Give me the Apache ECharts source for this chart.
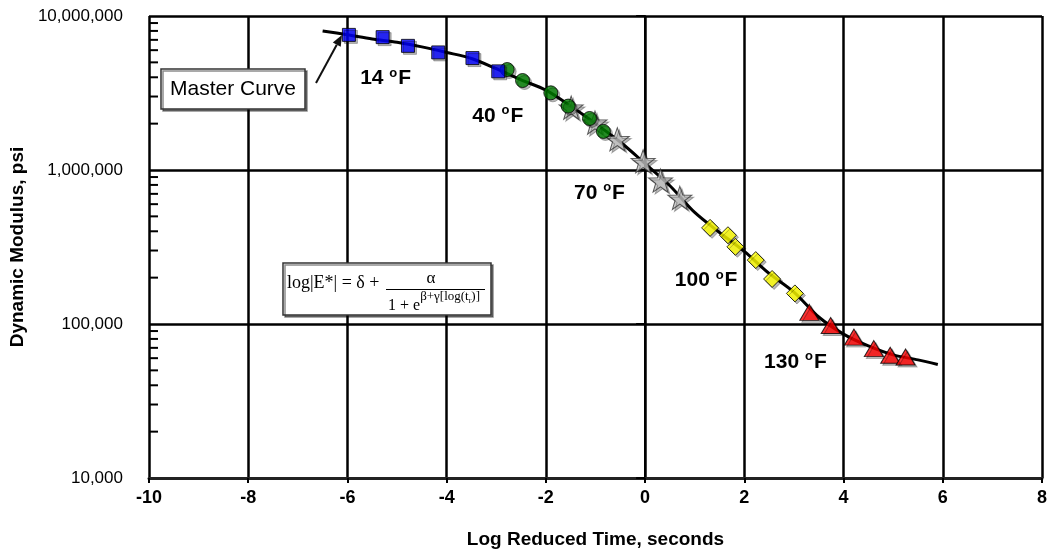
<!DOCTYPE html>
<html>
<head>
<meta charset="utf-8">
<script src="https://cdn.jsdelivr.net/npm/echarts@6/dist/echarts.min.js"></script>
<style>
html,body{margin:0;padding:0;background:#fff;}
#chart{width:1050px;height:554px;}
</style>
</head>
<body>
<div id="chart"></div>
<script>
// ---- data ----
const xTicks = [-10, -8, -6, -4, -2, 0, 2, 4, 6, 8];
const yTicks = [10000, 100000, 1000000, 10000000];

const curveX = [-6.5, -6, -5.5, -5, -4.5, -4, -3.5, -3, -2.5, -2, -1.5, -1, -0.5, 0, 0.5, 1, 1.5, 2, 2.5, 3, 3.5, 4, 4.5, 5, 5.5, 5.9];
const curveY = [8.0e6, 7.55e6, 7.1e6, 6.75e6, 6.3e6, 5.8e6, 5.3e6, 4.55e6, 3.85e6, 3.3e6, 2.6e6, 2.0e6, 1.52e6, 1.1e6, 790000, 530000, 393000, 296000, 213000, 161000, 111000, 86000, 72000, 63000, 58500, 54600];

const f14X = [-5.97, -5.29, -4.78, -4.17, -3.48, -2.96];
const f14Y = [7.54e6, 7.29e6, 6.40e6, 5.80e6, 5.33e6, 4.37e6];
const f40X = [-2.78, -2.47, -1.90, -1.55, -1.12, -0.84];
const f40Y = [4.49e6, 3.81e6, 3.17e6, 2.60e6, 2.16e6, 1.78e6];
const f70X = [-1.49, -1.01, -0.56, -0.04, 0.31, 0.70];
const f70Y = [2.54e6, 2.03e6, 1.585e6, 1.14e6, 853000, 659000];
const f100X = [1.31, 1.67, 1.82, 2.23, 2.56, 3.02];
const f100Y = [421000, 377000, 317000, 260000, 196000, 158000];
const f130X = [3.31, 3.74, 4.21, 4.61, 4.94, 5.25];
const f130Y = [119000, 97700, 82200, 69200, 62600, 61100];

const tempLabels = ['14', '40', '70', '100', '130'];
const tempLabelX = [-5.22, -2.96, -0.91, 1.24, 3.04];
const tempLabelY = [3.93e6, 2.25e6, 711000, 192000, 56900];

const minorTickValues = [];
[10000, 100000, 1000000].forEach(function (d) {
  for (let k = 2; k <= 9; k++) minorTickValues.push(d * k);
});

// ---- helpers ----
function zip(xs, ys) { return xs.map(function (x, i) { return [x, ys[i]]; }); }
const starPath = 'path://M50,0L61.76,33.82L97.55,34.55L69.02,56.18L79.39,90.45L50,70L20.61,90.45L30.98,56.18L2.45,34.55L38.24,33.82Z';
const shadow = { shadowColor: 'rgba(0,0,0,0.35)', shadowOffsetX: 2, shadowOffsetY: 2, shadowBlur: 0 };
function fmtThousands(v) {
  return String(Math.round(v)).replace(/\B(?=(\d{3})+(?!\d))/g, ',');
}

const chart = echarts.init(document.getElementById('chart'), null, { renderer: 'canvas' });

// arrow geometry for the "Master Curve" callout
const arrowFrom = [316, 83], arrowTo = [342, 35];
const dx = arrowTo[0] - arrowFrom[0], dy = arrowTo[1] - arrowFrom[1];
const dl = Math.sqrt(dx * dx + dy * dy);
const ux = dx / dl, uy = dy / dl;
const bx = arrowTo[0] - 11 * ux, by = arrowTo[1] - 11 * uy;
const px = -uy, py = ux;

const axisFont = 'Liberation Sans';

const option = {
  animation: false,
  backgroundColor: '#ffffff',
  grid: { left: 147, right: 5, top: 16, bottom: 73, containLabel: false },
  xAxis: {
    type: 'value',
    min: -10, max: 8, interval: 2,
    name: 'Log Reduced Time, seconds',
    nameLocation: 'middle',
    nameGap: 52,
    nameTextStyle: { fontFamily: axisFont, fontWeight: 'bold', fontSize: 19, color: '#000' },
    axisLine: { show: true, onZero: false, lineStyle: { color: '#222', width: 3 } },
    axisTick: { show: true, inside: false, length: 5, lineStyle: { color: '#000', width: 2 } },
    axisLabel: { fontFamily: axisFont, fontWeight: 'bold', fontSize: 18, color: '#000', margin: 11 },
    splitLine: { show: true, lineStyle: { color: '#000', width: 2.5 } }
  },
  yAxis: {
    type: 'log', logBase: 10,
    min: 10000, max: 10000000,
    name: 'Dynamic Modulus, psi',
    nameLocation: 'middle',
    nameGap: 118,
    nameTextStyle: { fontFamily: axisFont, fontWeight: 'bold', fontSize: 19, color: '#000' },
    axisLine: { show: true, lineStyle: { color: '#000', width: 2 } },
    axisTick: { show: true, inside: false, length: 9, lineStyle: { color: '#000', width: 2 } },
    minorTick: { show: false },
    axisLabel: {
      fontFamily: axisFont, fontSize: 17, color: '#000', margin: 26,
      formatter: function (v) { return fmtThousands(v); }
    },
    splitLine: { show: true, lineStyle: { color: '#000', width: 2.5 } }
  },
  series: [
    {
      name: 'minorTicks', type: 'custom', silent: true, z: 3,
      data: minorTickValues.map(function (v) { return [-10, v]; }),
      renderItem: function (params, api) {
        const p = api.coord([-10, api.value(1)]);
        return {
          type: 'line',
          shape: { x1: p[0], y1: p[1], x2: p[0] + 9, y2: p[1] },
          style: { stroke: '#000', lineWidth: 2 }
        };
      }
    },
    {
      name: 'Master Curve', type: 'line', data: zip(curveX, curveY),
      smooth: 0.3, symbol: 'none', z: 4,
      lineStyle: { color: '#000', width: 3 }
    },
    {
      name: '70 F', type: 'scatter', data: zip(f70X, f70Y), z: 5,
      symbol: starPath, symbolSize: [24, 23],
      itemStyle: Object.assign({ color: '#c0c0c0', borderColor: '#333', borderWidth: 1 }, shadow)
    },
    {
      name: '40 F', type: 'scatter', data: zip(f40X, f40Y), z: 6,
      symbol: 'circle', symbolSize: 14,
      itemStyle: Object.assign({ color: '#008000', borderColor: '#000', borderWidth: 1 }, shadow)
    },
    {
      name: '14 F', type: 'scatter', data: zip(f14X, f14Y), z: 7,
      symbol: 'rect', symbolSize: 13,
      itemStyle: Object.assign({ color: '#0000ff', borderColor: '#000', borderWidth: 1 }, shadow)
    },
    {
      name: '100 F', type: 'scatter', data: zip(f100X, f100Y), z: 7,
      symbol: 'diamond', symbolSize: [17, 17],
      itemStyle: Object.assign({ color: '#ffff00', borderColor: '#000', borderWidth: 1 }, shadow)
    },
    {
      name: '130 F', type: 'scatter', data: zip(f130X, f130Y), z: 8,
      symbol: 'triangle', symbolSize: [19, 16],
      itemStyle: Object.assign({ color: '#ff0000', borderColor: '#000', borderWidth: 1 }, shadow)
    },
    {
      name: 'labels', type: 'scatter', silent: true, z: 9,
      data: tempLabels.map(function (t, i) { return { value: [tempLabelX[i], tempLabelY[i]], name: t }; }),
      symbolSize: 1,
      itemStyle: { color: '#ffffff', opacity: 1 },
      label: {
        show: true, position: [0, 0], align: 'center', verticalAlign: 'middle',
        color: '#000', textBorderWidth: 0, opacity: 1,
        formatter: function (p) { return '{a|' + p.name + ' }{s|o}{a|F}'; },
        rich: {
          a: { fontFamily: axisFont, fontWeight: 'bold', fontSize: 21, color: '#000', lineHeight: 22, verticalAlign: 'bottom', textBorderWidth: 0 },
          s: { fontFamily: axisFont, fontWeight: 'bold', fontSize: 13, color: '#000', lineHeight: 22, verticalAlign: 'top', padding: [0, 1, 0, 0], textBorderWidth: 0 }
        }
      }
    }
  ],
  graphic: [
    // Master Curve callout
    {
      type: 'rect', z: 20,
      shape: { x: 161, y: 69, width: 144, height: 40 },
      style: { fill: '#fff', stroke: '#333', lineWidth: 1.5, shadowColor: 'rgba(0,0,0,0.45)', shadowOffsetX: 2, shadowOffsetY: 2, shadowBlur: 0 }
    },
    {
      type: 'text', z: 21, x: 233, y: 89,
      style: { text: 'Master Curve', font: '21px "Liberation Sans"', fill: '#000', align: 'center', verticalAlign: 'middle' }
    },
    {
      type: 'line', z: 20,
      shape: { x1: arrowFrom[0], y1: arrowFrom[1], x2: bx, y2: by },
      style: { stroke: '#111', lineWidth: 2 }
    },
    {
      type: 'polygon', z: 20,
      shape: { points: [arrowTo, [bx + 4.5 * px, by + 4.5 * py], [bx - 4.5 * px, by - 4.5 * py]] },
      style: { fill: '#111' }
    },
    // formula box
    {
      type: 'rect', z: 20,
      shape: { x: 283, y: 263, width: 208, height: 52 },
      style: { fill: '#fff', stroke: '#333', lineWidth: 1.5, shadowColor: 'rgba(0,0,0,0.45)', shadowOffsetX: 2, shadowOffsetY: 2, shadowBlur: 0 }
    },
    {
      type: 'text', z: 21, x: 287, y: 283,
      style: { text: 'log|E*| = δ +', font: '18px "Liberation Serif"', fill: '#000', align: 'left', verticalAlign: 'middle' }
    },
    {
      type: 'text', z: 21, x: 431, y: 279,
      style: { text: 'α', font: '17px "Liberation Serif"', fill: '#000', align: 'center', verticalAlign: 'middle' }
    },
    {
      type: 'line', z: 21,
      shape: { x1: 386, y1: 289.5, x2: 485, y2: 289.5 },
      style: { stroke: '#000', lineWidth: 1 }
    },
    {
      type: 'text', z: 21, x: 388, y: 290,
      style: {
        text: '{m|1 + e}{e|β+γ[log(t}{s|r}{e|)]}',
        align: 'left', verticalAlign: 'top',
        rich: {
          m: { fontFamily: 'Liberation Serif', fontSize: 16, fill: '#000', lineHeight: 24, verticalAlign: 'bottom' },
          e: { fontFamily: 'Liberation Serif', fontSize: 13, fill: '#000', lineHeight: 24, verticalAlign: 'top' },
          s: { fontFamily: 'Liberation Serif', fontSize: 8, fill: '#000', lineHeight: 24, verticalAlign: 'top', padding: [7, 0, 0, 0] }
        }
      }
    }
  ]
};
chart.setOption(option);
</script>
</body>
</html>
